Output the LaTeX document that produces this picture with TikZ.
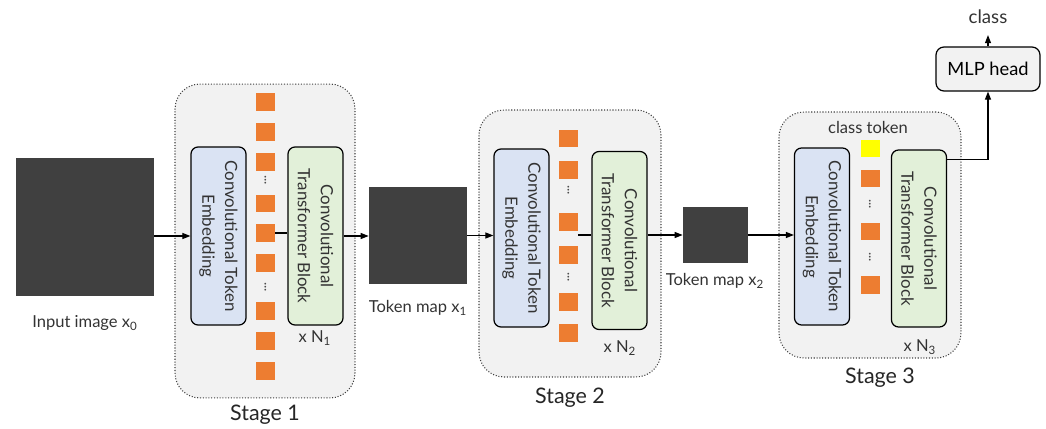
\documentclass[tikz,border=0pt]{standalone}
\usepackage{fontspec}
\setmainfont{Lato}
\usetikzlibrary{arrows.meta}
\definecolor{tokorange}{HTML}{ED7D31}
\definecolor{clsyellow}{HTML}{FFFF00}
\definecolor{mapgray}{HTML}{404040}
\definecolor{embblue}{HTML}{DAE3F3}
\definecolor{blkgreen}{HTML}{E2F0D9}
\definecolor{stagegray}{HTML}{F2F2F2}
\tikzset{
  flowarr/.style  = {-{Triangle[length=1.6mm,width=1.2mm]},line width=0.6pt},
  stagebox/.style = {draw=black!75,densely dotted,fill=stagegray,rounded corners=0.5cm,line width=0.6pt,inner sep=0},
  embbox/.style   = {draw,fill=embblue,rounded corners=0.14cm,line width=0.7pt,inner sep=0,
                     minimum width=1.1cm,minimum height=3.56cm},
  ctbox/.style    = {embbox,fill=blkgreen},
  vtext/.style    = {rotate=-90,align=center,font=\fontsize{9.6}{13}\selectfont,text=black!80},
  tok/.style      = {fill=tokorange,inner sep=0,minimum width=0.38cm,minimum height=0.36cm},
  vdots/.style    = {rotate=-90,font=\fontsize{8}{8}\selectfont,text=black!70,inner sep=0},
  tmap/.style     = {fill=mapgray,inner sep=0},
  lbl/.style      = {font=\fontsize{9.4}{11}\selectfont,text=black!80},
  stagelbl/.style = {font=\fontsize{12.2}{14}\selectfont,text=black!85}
}
\newcommand{\tokcol}[3]{%
  \foreach \yy [count=\i] in {#3}
    \node[tok] (#1-\i) at (#2,\yy) {};
}

\begin{document}
\begin{tikzpicture}[x=0.02cm,y=-0.02cm]
  \useasboundingbox (0,0) rectangle (1046,429);
  % input
  \node[tmap,minimum width=2.76cm,minimum height=2.76cm] (in0) at (85,227) {};
  \node[lbl] (in0l) at (85,323) {Input image x\textsubscript{0}};
  % stage 1
  \node[stagebox,minimum width=3.6cm,minimum height=6.28cm] (st1) at (265,241) {};
  \node[embbox] (cte1) at (218.5,236) {};
  \node[vtext] (cte1t) at (cte1) {Convolutional Token\\Embedding};
  \node[ctbox] (ctb1) at (315.5,236) {};
  \node[vtext] (ctb1t) at (ctb1) {Convolutional\\Transformer Block};
  \tokcol{s1}{265.5}{102,132,162,203.5,233,263,311,341,371}
  \node[vdots] (d1a) at (265.5,180) {...};
  \node[vdots] (d1b) at (265.5,287) {...};
  \node[lbl] (n1) at (315,338) {x N\textsubscript{1}};
  \node[stagelbl] (st1l) at (265,415) {Stage 1};
  % token map 1
  \node[tmap,minimum width=1.96cm,minimum height=1.94cm] (tm1) at (418,235.5) {};
  \node[lbl] (tm1l) at (418,308) {Token map x\textsubscript{1}};
  % stage 2
  \node[stagebox,minimum width=3.64cm,minimum height=5.34cm] (st2) at (570,243.5) {};
  \node[embbox] (cte2) at (521.5,238) {};
  \node[vtext] (cte2t) at (cte2) {Convolutional Token\\Embedding};
  \node[ctbox] (ctb2) at (619.5,240.5) {};
  \node[vtext] (ctb2t) at (ctb2) {Convolutional\\Transformer Block};
  \tokcol{s2}{568.5}{138.5,170,222,255,302,333}
  \node[vdots] (d2a) at (568.5,190) {...};
  \node[vdots] (d2b) at (568.5,277) {...};
  \coordinate (j2) at (578,235);
  \node[lbl] (n2) at (620,348) {x N\textsubscript{2}};
  \node[stagelbl] (st2l) at (570,398) {Stage 2};
  % token map 2
  \node[tmap,minimum width=1.3cm,minimum height=1.12cm] (tm2) at (715.5,235) {};
  \node[lbl] (tm2l) at (715,281) {Token map x\textsubscript{2}};
  % stage 3
  \node[stagebox,minimum width=3.64cm,minimum height=4.92cm] (st3) at (870,235) {};
  \node[embbox,minimum height=3.54cm] (cte3) at (822,236.5) {};
  \node[vtext] (cte3t) at (cte3) {Convolutional Token\\Embedding};
  \node[ctbox,minimum height=3.54cm] (ctb3) at (919,238.5) {};
  \node[vtext] (ctb3t) at (ctb3) {Convolutional\\Transformer Block};
  \node[tok,fill=clsyellow] (cls0) at (870,148.5) {};
  \tokcol{s3}{870}{178.5,231.5,285}
  \node[vdots] (d3a) at (870,204) {...};
  \node[vdots] (d3b) at (870,257) {...};
  \node[lbl] (clst) at (868,127) {class token};
  \node[lbl] (n3) at (920,347) {x N\textsubscript{3}};
  \node[stagelbl] (st3l) at (880,378) {Stage 3};
  % head
  \node[draw,fill=stagegray,rounded corners=0.16cm,line width=0.7pt,minimum width=2.08cm,minimum height=0.88cm,
        font=\fontsize{10.4}{13}\selectfont] (mlp) at (988,69) {MLP head};
  \node[lbl,font=\fontsize{10.6}{12}\selectfont] (cls) at (988,17) {class};
  % flow
  \draw[flowarr] (in0.east |- cte1.west) -- (cte1.west);
  \draw[line width=0.6pt] (s1-5.east) -- (s1-5.east -| ctb1.west);
  \draw[flowarr] (ctb1.east) -- (ctb1.east -| tm1.west);
  \draw[flowarr] (tm1.east) -- (tm1.east -| cte2.west);
  \draw[line width=0.6pt] (j2) -- (j2 -| ctb2.west);
  \draw[flowarr] (tm2.west -| ctb2.east) -- (tm2.west);
  \draw[flowarr] (tm2.east) -- (tm2.east -| cte3.west);
  \draw[flowarr] ([yshift=-0.2cm]ctb3.north east) -| (mlp.south);
  \draw[flowarr] (mlp.north) -- ([yshift=-0.1cm]cls.south);
\end{tikzpicture}
\end{document}
